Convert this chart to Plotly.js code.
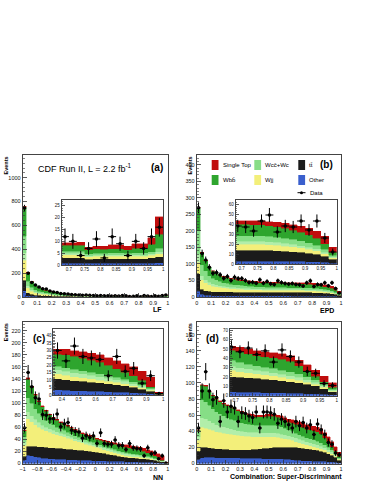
<!DOCTYPE html>
<html>
<head>
<meta charset="utf-8">
<script src="https://cdn.plot.ly/plotly-3.0.1.min.js"></script>
<style>html,body{margin:0;padding:0;background:#fff}</style>
</head>
<body>
<div id="chart" style="width:374px;height:484px"></div>
<script>
// stack order, bottom to top
let compColors = ['#3a5fcd', '#1b1b1b', '#f3ef7a', '#b2eeaa', '#86de86', '#2ea52e', '#c00d0d'];

// (a) LF, 40 bins 0..1
let lfOther = [52, 12, 7, 5, 4, 3.5, 3, 2.5, 2.2, 2, 1.8, 1.6, 1.5, 1.4, 1.3, 1.2, 1.1, 1.1, 1, 1, 1, 0.9, 0.9, 0.9, 0.9, 0.8, 0.8, 0.8, 0.8, 0.8, 0.7, 0.7, 0.7, 0.7, 0.7, 0.7, 0.7, 0.7, 0.8, 1.0];
let lfTt = [88, 22, 14, 11, 9, 8, 7, 6, 5.5, 5, 4.5, 4, 3.8, 3.5, 3.3, 3.1, 3, 2.9, 2.8, 2.7, 2.6, 2.5, 2.5, 2.4, 2.4, 2.3, 2.3, 2.2, 2.2, 2.2, 1.8, 1.9, 1.9, 2.0, 2.0, 1.9, 2.0, 2.0, 2.2, 2.5];
let lfWjj = [170, 45, 27, 20, 16, 13, 11, 9, 7.5, 6.5, 5.5, 4.8, 4.2, 3.6, 3.2, 2.8, 2.6, 2.4, 2.2, 2, 1.9, 1.8, 1.7, 1.6, 1.5, 1.4, 1.4, 1.3, 1.3, 1.3, 1.0, 1.1, 1.1, 1.1, 1.1, 1.0, 1.1, 1.0, 1.1, 1.3];
let lfWc = [60, 17, 11, 8, 6.5, 5.5, 4.5, 3.8, 3.2, 2.7, 2.3, 2, 1.7, 1.5, 1.3, 1.1, 1, 0.9, 0.8, 0.8, 0.7, 0.7, 0.7, 0.7, 0.6, 0.6, 0.6, 0.6, 0.6, 0.6, 0.5, 0.5, 0.5, 0.5, 0.5, 0.5, 0.5, 0.5, 0.6, 0.8];
let lfWcc = [140, 38, 23, 17, 14, 12, 10, 8.5, 7, 6, 5, 4.3, 3.7, 3.2, 2.8, 2.5, 2.3, 2.1, 1.9, 1.7, 1.6, 1.5, 1.4, 1.3, 1.2, 1.1, 1.1, 1.0, 1.0, 1.0, 0.8, 0.8, 0.8, 0.8, 0.8, 0.8, 0.9, 0.9, 1.0, 1.4];
let lfWbb = [245, 70, 45, 36, 29, 25, 21.5, 18, 15.5, 13, 11, 9.5, 8.2, 7, 6.3, 5.6, 5.2, 4.8, 4.5, 4.1, 3.9, 3.7, 3.4, 3.2, 3.0, 2.8, 2.7, 2.4, 2.4, 2.4, 1.6, 1.8, 1.7, 1.8, 1.8, 1.6, 1.8, 1.9, 3.0, 6.0];
let lfStop = [5, 2, 1.2, 1, 1, 1, 1, 1, 1, 1, 1, 1, 1, 1, 1, 1, 1, 1, 1, 1, 1, 1, 1, 1, 1.1, 1.1, 1.2, 1.2, 1.2, 1.4, 1.1, 1.2, 1.3, 1.6, 1.6, 1.5, 2.0, 2.0, 2.8, 7.5];
let lfData = [745, 198, 122, 100, 84, 70, 66, 50, 42, 38, 30, 28, 26, 20, 18, 17, 15, 16, 14, 12, 11, 13, 10, 11, 9, 10, 8, 12, 10, 4, 7, 11, 3, 12, 9, 4, 10, 7, 12, 16];

// (b) EPD, 40 bins 0..1
let epdOther = [18, 8, 6, 5, 4.5, 4.2, 4, 3.9, 3.8, 3.7, 3.6, 3.5, 3.5, 3.4, 3.4, 3.3, 3.3, 3.3, 3.2, 3.2, 3.2, 3.2, 3.1, 3.1, 3.1, 3.1, 3.0, 3.0, 3.0, 3.0, 3.0, 2.9, 2.9, 2.8, 2.7, 2.6, 2.4, 2.2, 1.8, 1.0];
let epdTt = [52, 16, 13, 12, 11.5, 11.5, 11.5, 11.5, 11.5, 11.5, 11.5, 11.5, 11.5, 11.3, 11.3, 11.2, 11.2, 11.1, 11.1, 11.1, 11, 11, 11, 11, 11, 11, 11, 11, 11, 11, 11, 10.8, 10.6, 10.2, 9.8, 9.2, 8.6, 7.8, 6.2, 4.0];
let epdWjj = [35, 28, 24, 20, 17, 15, 13.5, 12, 11, 10.3, 9.6, 9, 8.5, 8, 7.7, 7.4, 7.1, 6.9, 6.7, 6.5, 6.3, 6.2, 6.1, 6, 6, 5.9, 5.9, 5.8, 5.8, 5.7, 5.6, 5.5, 5.3, 5.0, 4.7, 4.3, 3.8, 3.2, 2.5, 1.5];
let epdWc = [25, 12, 10, 8, 7, 6, 5.5, 5, 4.6, 4.3, 4.1, 3.9, 3.7, 3.6, 3.5, 3.4, 3.3, 3.2, 3.1, 3.1, 3.0, 3.0, 3.0, 3.0, 3.0, 3.0, 3.0, 3.0, 3.0, 3.0, 3.0, 2.9, 2.8, 2.7, 2.6, 2.4, 2.2, 1.9, 1.5, 0.8];
let epdWcc = [70, 34, 27, 20, 17, 15, 13, 11.5, 10.5, 9.5, 9, 8.5, 8, 7.6, 7.2, 6.9, 6.6, 6.4, 6.2, 6.1, 6.0, 5.9, 5.9, 5.8, 5.8, 5.7, 5.7, 5.6, 5.6, 5.6, 5.6, 5.5, 5.4, 5.2, 5.0, 4.7, 4.3, 3.7, 2.8, 1.5];
let epdWbb = [70, 35, 30, 25, 21, 20, 18.5, 17, 16.5, 16, 15.5, 15, 14.5, 14, 13.8, 13.6, 13.4, 13, 12.8, 12.7, 12.5, 12.3, 12.3, 12.2, 12, 11.8, 11.7, 11.5, 11.3, 11.2, 11, 10.7, 10.3, 9.8, 9.2, 8.6, 8.0, 7.0, 5.5, 3.0];
let epdStop = [2, 2, 2, 2, 2, 2, 2, 2, 2, 2, 2, 2, 2, 2, 2, 2, 2.2, 2.2, 2.4, 2.5, 2.6, 2.7, 2.8, 2.9, 3, 3.2, 3.4, 3.4, 3.5, 3.7, 3.9, 4.2, 4.5, 5, 5.5, 6, 6.5, 7, 7.5, 5];
let epdData = [270, 132, 112, 90, 72, 74, 67, 57, 62, 50, 60, 56, 56, 50, 44, 45, 42, 52, 42, 47, 40, 38, 49, 44, 41, 39, 41, 38, 37, 33, 43, 49, 32, 38, 37, 43, 34, 43, 26, 12];

// (c) NN, 40 bins -1..1
let nnOther = [6, 14, 12.5, 11, 10, 9, 8.5, 8, 7.6, 7.3, 7, 6.7, 6.4, 6.1, 5.9, 5.7, 5.5, 5.3, 5.1, 4.9, 4.7, 4.5, 4.3, 4.1, 3.9, 3.8, 3.6, 3.4, 3.2, 3, 2.8, 2.6, 2.4, 2.2, 2, 1.8, 1.5, 1.2, 0.8, 0.2];
let nnTt = [6, 15, 16.5, 17.5, 18, 18.5, 18.5, 18.5, 18.5, 18.2, 18, 17.8, 17.5, 17.2, 17, 16.6, 16.2, 15.8, 15.2, 14.6, 14, 13.2, 12.4, 11.6, 10.6, 9.6, 8.5, 7.4, 7, 6.7, 6.4, 6.1, 5.8, 5.4, 5, 4.4, 3.6, 2.8, 1.8, 0.4];
let nnWjj = [18, 45, 40, 36, 32, 29, 27, 25, 23.5, 22, 21, 19.5, 18, 16.5, 15, 13.5, 12.3, 11, 10, 9, 8, 7.2, 6.5, 5.8, 5.2, 4.6, 4, 3.5, 3, 2.7, 2.4, 2.1, 1.9, 1.7, 1.5, 1.3, 1.1, 0.9, 0.6, 0.2];
let nnWc = [5, 12, 10.5, 9, 8, 7, 6.3, 5.8, 5.3, 4.9, 4.5, 4.2, 3.9, 3.7, 3.5, 3.3, 3.2, 3.1, 3.0, 2.9, 2.8, 2.8, 2.7, 2.7, 2.7, 2.7, 2.7, 2.8, 2.8, 2.7, 2.6, 2.5, 2.3, 2.1, 1.9, 1.7, 1.4, 1.1, 0.7, 0.1];
let nnWcc = [9, 23, 20, 17.5, 15, 13, 11.5, 10, 9, 8, 7.2, 6.6, 6, 5.5, 5, 4.6, 4.3, 4, 3.8, 3.6, 3.4, 3.2, 3.0, 2.9, 2.8, 2.7, 2.6, 2.4, 2.4, 2.3, 2.2, 2.1, 2.0, 1.9, 1.7, 1.5, 1.3, 1.0, 0.6, 0.2];
let nnWbb = [10.5, 31, 26.5, 22, 19, 17.5, 14.7, 13.2, 11.6, 11.1, 9.8, 9.7, 9.7, 9.5, 9.1, 8.8, 8, 8.3, 8.4, 8.5, 7.3, 7.3, 7.6, 7.9, 8.1, 8.7, 9, 8, 8.8, 8.6, 8.3, 8.1, 7.8, 6.7, 5.7, 4.8, 4.1, 3, 1, 0.5];
let nnStop = [0.5, 2, 2, 2, 2, 2, 1.5, 1.5, 1.5, 1.5, 1.5, 1.5, 1.5, 1.5, 1.5, 1.5, 1.5, 1.5, 1.5, 1.5, 1.8, 1.8, 2, 2, 2.2, 2.4, 2.6, 3.5, 3.8, 4, 4.3, 4.5, 4.8, 5, 5.2, 5.5, 6, 6, 6.5, 0.4];
let nnData = [59, 151, 127, 109, 107, 81, 80, 74, 74, 82, 61, 66, 68, 55, 53, 52, 42, 46, 43, 46, 33, 51, 33, 32, 32, 39, 30, 30, 23, 33, 26, 25, 24, 13, 26, 16, 18, 8, 13, 1];

// (d) Super-Discriminant, 40 bins 0..1
let sdOther = [5, 7, 7.5, 7.5, 7.5, 7.4, 7.3, 7.2, 7.1, 7, 7, 6.9, 6.8, 6.7, 6.6, 6.5, 6.4, 6.3, 6.2, 6.1, 6, 5.9, 5.8, 5.6, 5.4, 5.0, 4.6, 4.2, 3.9, 3.7, 3.5, 3.3, 3.1, 2.9, 2.7, 2.5, 2.2, 1.9, 1.5, 1.0];
let sdTt = [10, 13, 12.5, 12, 11.5, 11, 10.8, 10.6, 10.4, 10.2, 10, 10, 10, 10.2, 10.5, 11, 11.5, 12, 12.5, 13, 13.5, 14, 14.3, 14.6, 15, 15.4, 15.7, 16, 15.8, 15.5, 15, 14.5, 14, 13.3, 12.5, 11.5, 10, 8.5, 6, 3];
let sdWjj = [14, 25, 24, 23, 22, 21, 20.5, 20, 19.5, 19, 18.5, 18, 17.5, 17, 16.5, 16, 15.5, 15, 14.5, 14, 13.5, 13, 12.2, 11.4, 10.5, 9.5, 8.5, 7, 6, 5.3, 4.8, 4.4, 4, 3.6, 3.2, 2.8, 2.4, 2, 1.5, 1];
let sdWc = [4, 12, 11.5, 10.5, 9.5, 8.8, 8.2, 7.6, 7.1, 6.7, 6.3, 6, 5.7, 5.5, 5.3, 5.2, 5.1, 5, 5, 5, 5, 5, 5, 4.9, 4.8, 4.7, 4.6, 4.5, 4.4, 4.2, 4, 3.8, 3.6, 3.4, 3.2, 3, 2.6, 2.2, 1.6, 1];
let sdWcc = [7, 22, 21, 19, 17.5, 16, 15, 14, 13, 12.3, 11.6, 11, 10.5, 10, 9.7, 9.4, 9.2, 9, 9, 9.2, 9.4, 9.5, 9.5, 9.0, 8.3, 7.5, 6.7, 6, 5.5, 5.2, 4.9, 4.7, 4.5, 4.3, 4, 3.5, 3, 2.5, 1.8, 1];
let sdWbb = [1.5, 18, 19.5, 17, 16, 15.8, 15, 14.4, 14.7, 14.5, 14.3, 13.7, 13, 12.1, 11.8, 11.2, 10.5, 10.8, 10.8, 11.6, 11.3, 11.1, 10.5, 10.5, 9.7, 9.3, 9.9, 10.8, 11.6, 11.1, 10.6, 10.9, 11.2, 11.7, 11.4, 8.5, 6.5, 3.6, 2.6, 2];
let sdStop = [0.5, 1, 1, 1, 1, 1, 1.2, 1.2, 1.2, 1.3, 1.3, 1.4, 1.5, 1.5, 1.6, 1.7, 1.8, 1.9, 2, 2.1, 2.3, 2.5, 2.7, 3, 3.3, 3.6, 4, 4.5, 4.8, 5, 5.2, 5.4, 5.6, 5.8, 6, 6.2, 6.3, 6.3, 6, 5];
let sdData = [44, 90, 114, 90, 79, 82, 52, 78, 64, 71, 69, 52, 63, 62, 59, 57, 64, 44, 64, 64, 63, 61, 50, 55, 52, 48, 44, 52, 47, 51, 44, 48, 36, 49, 42, 36, 26, 24, 13, 11];

function binCenters(lo, w, n) {
  let c = [];
  for (let i = 0; i < n; i++) c.push(lo + w * (i + 0.5));
  return c;
}

// pixel -> paper
function px(v) { return v / 374; }
function py(v) { return 1 - v / 484; }

let traces = [];
function addPanel(n, centers, comps, data, w) {
  let xa = n === 1 ? 'x' : 'x' + n;
  let ya = n === 1 ? 'y' : 'y' + n;
  comps.forEach(function (vals, k) {
    traces.push({
      type: 'bar', x: centers, y: vals, width: w, xaxis: xa, yaxis: ya,
      marker: {color: compColors[k], line: {width: 0.4, color: compColors[k]}},
      hoverinfo: 'skip'
    });
  });
  traces.push({
    type: 'scatter', mode: 'markers', x: centers, y: data, xaxis: xa, yaxis: ya,
    marker: {color: 'black', size: 3.5},
    error_y: {type: 'sqrt', color: 'black', thickness: 1, width: 0},
    error_x: {type: 'constant', value: w / 2, color: 'black', thickness: 1, width: 0},
    hoverinfo: 'skip'
  });
}

let cA = binCenters(0, 0.025, 40);
let cC = binCenters(-1, 0.05, 40);
let compsA = [lfOther, lfTt, lfWjj, lfWc, lfWcc, lfWbb, lfStop];
let compsB = [epdOther, epdTt, epdWjj, epdWc, epdWcc, epdWbb, epdStop];
let compsC = [nnOther, nnTt, nnWjj, nnWc, nnWcc, nnWbb, nnStop];
let compsD = [sdOther, sdTt, sdWjj, sdWc, sdWcc, sdWbb, sdStop];

addPanel(1, cA, compsA, lfData, 0.025);
addPanel(2, cA, compsB, epdData, 0.025);
addPanel(3, cC, compsC, nnData, 0.05);
addPanel(4, cA, compsD, sdData, 0.025);
addPanel(5, cA, compsA, lfData, 0.025);
addPanel(6, cA, compsB, epdData, 0.025);
addPanel(7, cC, compsC, nnData, 0.05);
addPanel(8, cA, compsD, sdData, 0.025);

let font = 'Liberation Sans, Arial, sans-serif';

function ax(dom, anchor, range, dtick, tick0, minor, fs, tl) {
  return {
    domain: dom, anchor: anchor, range: range, dtick: dtick, tick0: tick0,
    ticks: 'inside', ticklen: tl, tickwidth: 0.8, tickcolor: '#333',
    minor: {ticks: 'inside', ticklen: tl / 2, dtick: minor, tickcolor: '#333', tickwidth: 0.6},
    showline: true, mirror: true, linecolor: '#444', linewidth: 1,
    showgrid: false, zeroline: false, fixedrange: true,
    tickfont: {family: font, size: fs, color: '#111'}
  };
}

let yTop = [py(297), py(155)];
let yBot = [py(463.5), py(321.7)];
let xL = [px(22.7), px(167.7)];
let xR = [px(196.7), px(341)];

let layout = {
  width: 374, height: 484,
  margin: {l: 0, r: 0, t: 0, b: 0},
  paper_bgcolor: 'white', plot_bgcolor: 'white',
  showlegend: false, barmode: 'stack', bargap: 0,
  xaxis: ax(xL, 'y', [0, 1], 0.1, 0, 0.02, 5.5, 4),
  yaxis: ax(yTop, 'x', [0, 1190], 200, 0, 40, 5.5, 4),
  xaxis2: ax(xR, 'y2', [0, 1], 0.1, 0, 0.02, 5.5, 4),
  yaxis2: ax(yTop, 'x2', [0, 430], 50, 0, 10, 5.5, 4),
  xaxis3: ax(xL, 'y3', [-1, 1], 0.2, -1, 0.04, 5.5, 4),
  yaxis3: ax(yBot, 'x3', [0, 235], 20, 0, 5, 5.5, 4),
  xaxis4: ax(xR, 'y4', [0, 1], 0.1, 0, 0.02, 5.5, 4),
  yaxis4: ax(yBot, 'x4', [0, 176], 20, 0, 5, 5.5, 4),
  xaxis5: ax([px(61.7), px(163.3)], 'y5', [0.677, 1], 0.05, 0.7, 0.01, 4.5, 3),
  yaxis5: ax([py(265), py(200)], 'x5', [0, 27.5], 5, 0, 1, 4.5, 3),
  xaxis6: ax([px(235.7), px(336.7)], 'y6', [0.681, 1], 0.05, 0.7, 0.01, 4.5, 3),
  yaxis6: ax([py(264), py(200)], 'x6', [0, 64], 10, 0, 2, 4.5, 3),
  xaxis7: ax([px(53.3), px(163.3)], 'y7', [0.35, 1], 0.1, 0.4, 0.02, 4.5, 3),
  yaxis7: ax([py(395), py(329)], 'x7', [0, 44.5], 5, 0, 1, 4.5, 3),
  xaxis8: ax([px(230), px(336.7)], 'y8', [0.683, 1], 0.05, 0.7, 0.01, 4.5, 3),
  yaxis8: ax([py(395.7), py(329)], 'x8', [0, 71.4], 10, 0, 2, 4.5, 3),
  annotations: [],
  shapes: []
};

function note(text, x, y, size, xanchor, extra) {
  let a = {text: text, x: px(x), y: py(y), xref: 'paper', yref: 'paper', showarrow: false,
    xanchor: xanchor, yanchor: 'middle', font: {family: font, size: size, color: 'black'}};
  return Object.assign(a, extra || {});
}

let ann = layout.annotations;
ann.push(note('CDF Run II, L = 2.2 fb<sup>-1</sup>', 36, 168, 9, 'left'));
ann.push(note('<b>(a)</b>', 149, 168, 10, 'left'));
ann.push(note('<b>(b)</b>', 318, 165, 10, 'left'));
ann.push(note('<b>(c)</b>', 31, 338, 10, 'left'));
ann.push(note('<b>(d)</b>', 204, 338, 10, 'left'));
[[5.5, 155], [189.5, 155], [5.5, 321.7], [189.5, 321.7]].forEach(function (p) {
  ann.push(note('<b>Events</b>', p[0], p[1], 5.5, 'center', {textangle: -90, yanchor: 'top'}));
});
ann.push(note('<b>LF</b>', 164, 309, 7, 'right'));
ann.push(note('<b>EPD</b>', 336, 310, 7, 'right'));
ann.push(note('<b>NN</b>', 165, 477, 7, 'right'));
ann.push(note('<b>Combination: Super-Discriminant</b>', 344, 477, 7, 'right'));

// legend of panel (b)
let legItems = [
  ['Single Top', compColors[6], 211.7, 165],
  ['Wcc\u0304+Wc', '#88dd88', 254.3, 165],
  ['tt\u0304', compColors[1], 298.3, 165],
  ['Wbb\u0304', compColors[5], 211.7, 180],
  ['Wjj', compColors[2], 254.3, 180],
  ['Other', compColors[0], 298.3, 180]
];
legItems.forEach(function (it) {
  layout.shapes.push({type: 'rect', xref: 'paper', yref: 'paper',
    x0: px(it[2]), x1: px(it[2] + 6.8), y0: py(it[3] + 5), y1: py(it[3] - 5),
    fillcolor: it[1], line: {width: 0}});
  ann.push(note(it[0], it[2] + 9, it[3], 6, 'left'));
});
layout.shapes.push({type: 'line', xref: 'paper', yref: 'paper',
  x0: px(297.5), x1: px(305.5), y0: py(192.7), y1: py(192.7), line: {color: 'black', width: 1}});
layout.shapes.push({type: 'circle', xref: 'paper', yref: 'paper',
  x0: px(300), x1: px(303), y0: py(194.2), y1: py(191.2), fillcolor: 'black', line: {width: 0}});
ann.push(note('Data', 307.7, 192.7, 6, 'left'));

Plotly.newPlot('chart', traces, layout, {staticPlot: true, displayModeBar: false});
</script>
</body>
</html>
